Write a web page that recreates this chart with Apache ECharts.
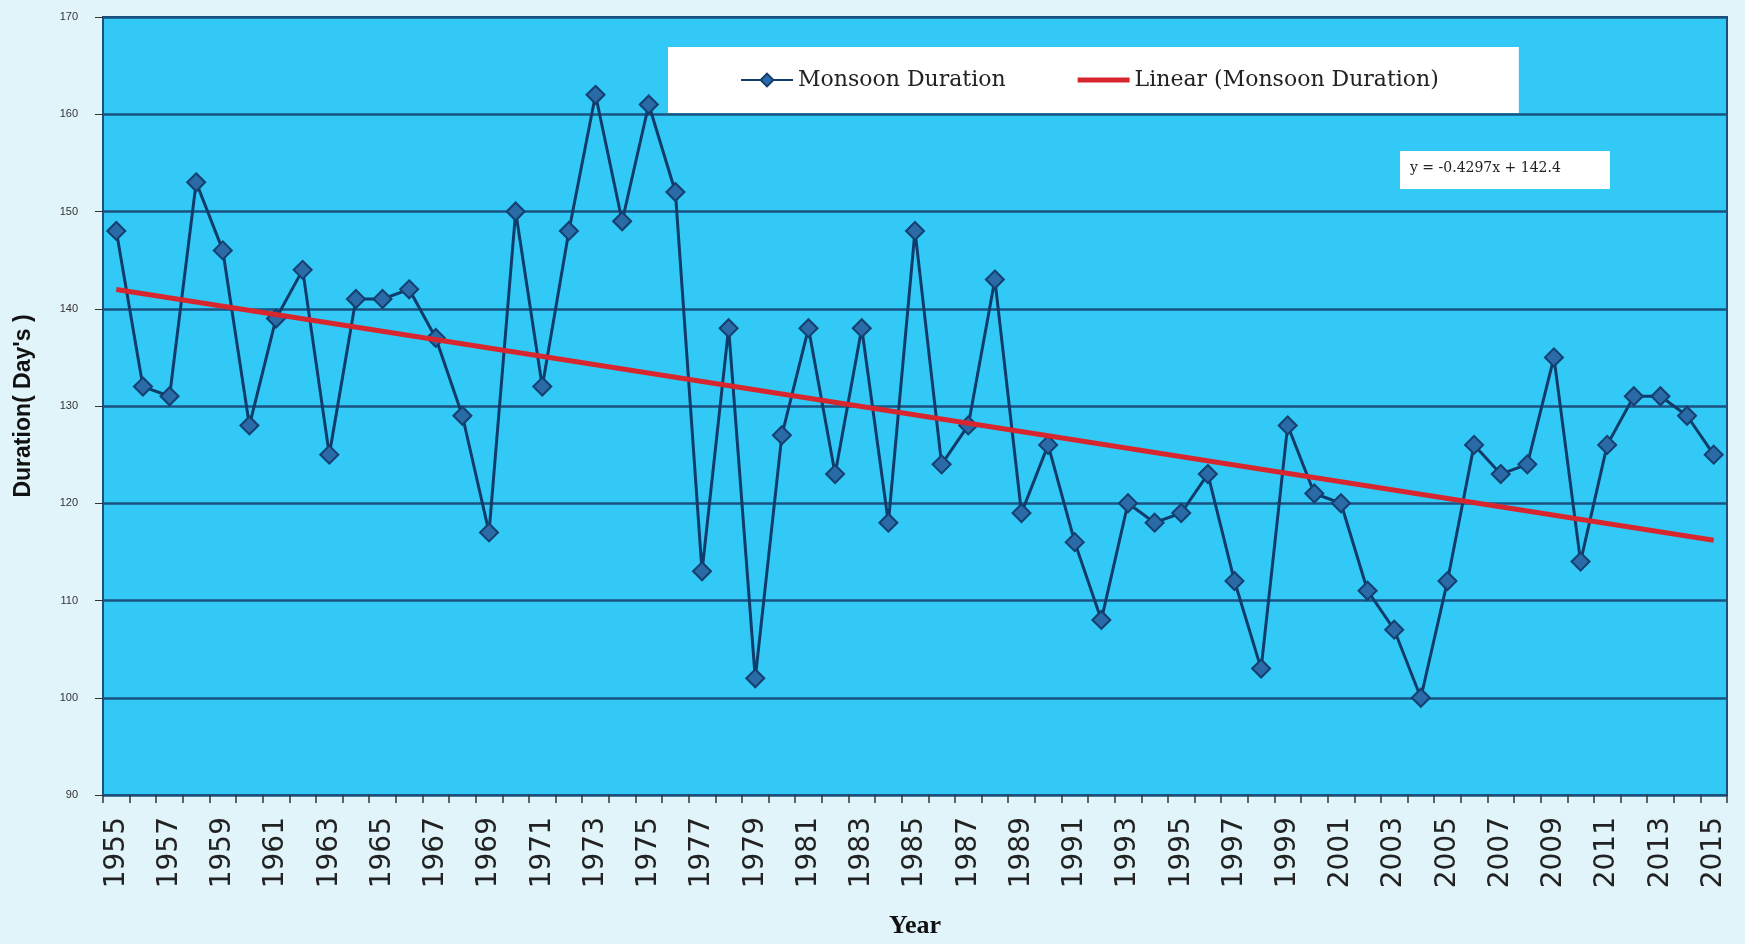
<!DOCTYPE html>
<html>
<head>
<meta charset="utf-8">
<title>Monsoon Duration</title>
<script src="https://cdn.jsdelivr.net/npm/echarts@6/dist/echarts.min.js"></script>
<style>
  html, body { margin: 0; padding: 0; background: #e0f4f9; }
  #chart { width: 1745px; height: 944px; }
</style>
</head>
<body>
<div id="chart"></div>
<script>
  // data
  var years = ['1955', '1956', '1957', '1958', '1959', '1960', '1961', '1962', '1963', '1964',
    '1965', '1966', '1967', '1968', '1969', '1970', '1971', '1972', '1973', '1974',
    '1975', '1976', '1977', '1978', '1979', '1980', '1981', '1982', '1983', '1984',
    '1985', '1986', '1987', '1988', '1989', '1990', '1991', '1992', '1993', '1994',
    '1995', '1996', '1997', '1998', '1999', '2000', '2001', '2002', '2003', '2004',
    '2005', '2006', '2007', '2008', '2009', '2010', '2011', '2012', '2013', '2014', '2015']

  var duration = [148, 132, 131, 153, 146, 128, 139, 144, 125, 141,
    141, 142, 137, 129, 117, 150, 132, 148, 162, 149,
    161, 152, 113, 138, 102, 127, 138, 123, 138, 118,
    148, 124, 128, 143, 119, 126, 116, 108, 120, 118,
    119, 123, 112, 103, 128, 121, 120, 111, 107, 100,
    112, 126, 123, 124, 135, 114, 126, 131, 131, 129, 125]

  // trend line ends (1955 and 2015), from y = -0.4297x + 142.4
  var trendYears = ['1955', '2015']
  var trendValues = [141.97, 116.19]

  var yTicks = [90, 100, 110, 120, 130, 140, 150, 160, 170]

  var equationText = 'y = -0.4297x + 142.4'

  var myChart = echarts.init(document.getElementById('chart'))

  myChart.setOption({
    backgroundColor: '#e0f4f9',
    animation: false,
    grid: {
      left: 103,
      right: 18,
      top: 17,
      bottom: 147,
      show: true,
      backgroundColor: '#33c9f7',
      borderColor: '#1d4f7c',
      borderWidth: 2
    },
    legend: {
      left: 668,
      top: 47,
      padding: [22, 80, 22, 72],
      itemGap: 72,
      itemWidth: 52,
      itemHeight: 16,
      backgroundColor: '#ffffff',
      textStyle: {
        fontFamily: 'DejaVu Serif',
        fontSize: 22,
        color: '#222'
      },
      data: [
        {name: 'Monsoon Duration'},
        {name: 'Linear (Monsoon Duration)', icon: 'path://M0,0 L52,0 L52,5 L0,5 Z'}
      ]
    },
    xAxis: {
      type: 'category',
      data: years,
      boundaryGap: true,
      name: 'Year',
      nameLocation: 'middle',
      nameGap: 118,
      nameTextStyle: {
        fontFamily: 'Liberation Serif',
        fontWeight: 'bold',
        fontSize: 26,
        color: '#111'
      },
      axisLine: { lineStyle: { color: '#1d4f7c', width: 2 } },
      axisTick: { show: true, interval: 0, length: 8, lineStyle: { color: '#333', width: 1.5 } },
      axisLabel: {
        interval: 1,
        rotate: 90,
        margin: 22,
        fontFamily: 'DejaVu Sans',
        fontSize: 28,
        color: '#222'
      }
    },
    yAxis: {
      type: 'value',
      min: yTicks[0],
      max: yTicks[yTicks.length - 1],
      interval: 10,
      name: "Duration( Day's )",
      nameLocation: 'middle',
      nameRotate: 90,
      nameGap: 68,
      nameTextStyle: {
        fontFamily: 'Liberation Sans',
        fontWeight: 'bold',
        fontSize: 23,
        color: '#111'
      },
      axisLine: { show: true, lineStyle: { color: '#1d4f7c', width: 2 } },
      axisTick: { show: true, length: 8, lineStyle: { color: '#333' } },
      axisLabel: {
        margin: 25,
        fontFamily: 'Liberation Sans',
        fontSize: 11,
        color: '#333'
      },
      splitLine: { show: true, lineStyle: { color: '#1b5281', width: 2.5 } }
    },
    graphic: [
      {
        type: 'rect',
        left: 1400,
        top: 151,
        shape: { width: 210, height: 38 },
        style: { fill: '#ffffff' },
        z: 100
      },
      {
        type: 'text',
        left: 1410,
        top: 161,
        style: {
          text: equationText,
          font: '14px "DejaVu Serif"',
          fill: '#222'
        },
        z: 101
      }
    ],
    series: [
      {
        name: 'Monsoon Duration',
        type: 'line',
        data: duration,
        symbol: 'diamond',
        symbolSize: 18,
        showAllSymbol: true,
        lineStyle: { color: '#0f3c6a', width: 3 },
        itemStyle: { color: '#2a6aa6', borderColor: '#143f6e', borderWidth: 2 },
        z: 3
      },
      {
        name: 'Linear (Monsoon Duration)',
        type: 'line',
        data: [[trendYears[0], trendValues[0]], [trendYears[1], trendValues[1]]],
        symbol: 'none',
        lineStyle: { color: '#d8262e', width: 5 },
        itemStyle: { color: '#d8262e' },
        z: 4
      }
    ]
  })
</script>
</body>
</html>
